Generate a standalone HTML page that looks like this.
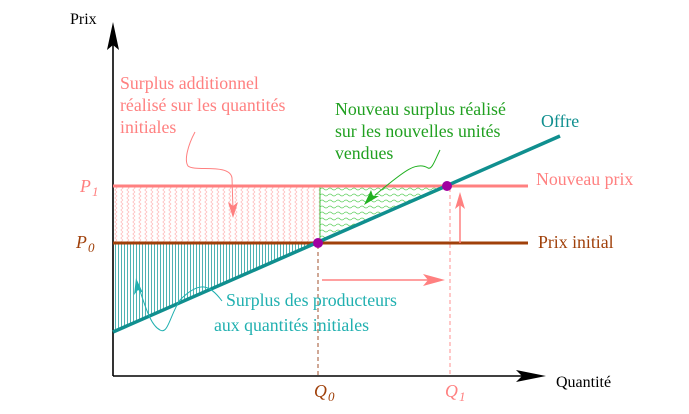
<!DOCTYPE html>
<html><head><meta charset="utf-8"><style>
html,body{margin:0;padding:0;background:#fff;}
svg{display:block;}
text{font-family:"Liberation Serif",serif;font-size:17.8px;}
</style></head><body>
<svg width="689" height="414" viewBox="0 0 689 414" xmlns="http://www.w3.org/2000/svg">
<defs>
<pattern id="pz" width="6" height="8" patternUnits="userSpaceOnUse">
<path d="M3,0 L0.8,2 L3,4 L0.8,6 L3,8" fill="none" stroke="#ffb8b8" stroke-width="0.7"/>
</pattern>
<pattern id="gz" width="8" height="6" patternUnits="userSpaceOnUse">
<path d="M0,3 Q2,1 4,3 T8,3" fill="none" stroke="#60d060" stroke-width="0.8"/>
</pattern>
<pattern id="tz" width="3" height="10" patternUnits="userSpaceOnUse">
<line x1="1.5" y1="0" x2="1.5" y2="10" stroke="#20a0a0" stroke-width="0.8"/>
</pattern>
</defs>
<rect x="113" y="186" width="207" height="57" fill="url(#pz)"/>
<polygon points="320,187 447,187 320,242" fill="url(#gz)" stroke="#40c040" stroke-width="1"/>
<polygon points="113,244 318,244 113,332" fill="url(#tz)"/>
<line x1="113" y1="376" x2="113" y2="40" stroke="#000" stroke-width="1.6"/>
<polygon points="113,22 107,50 113,45 119,50" fill="#000"/>
<line x1="113" y1="376" x2="530" y2="376" stroke="#000" stroke-width="1.6"/>
<polygon points="546,376 516,370 522,376 516,382" fill="#000"/>
<line x1="318" y1="245" x2="318" y2="376" stroke="#a0522d" stroke-width="1" stroke-dasharray="4,3"/>
<line x1="450" y1="188" x2="450" y2="376" stroke="#ff9090" stroke-width="1" stroke-dasharray="4,3"/>
<line x1="113" y1="186" x2="528" y2="186" stroke="#ff8080" stroke-width="3"/>
<line x1="113" y1="243" x2="528" y2="243" stroke="#a0400a" stroke-width="3"/>
<line x1="113" y1="332" x2="560" y2="136" stroke="#108f8f" stroke-width="3.5"/>
<circle cx="318" cy="243" r="5" fill="#a000a0"/>
<circle cx="447" cy="186" r="5" fill="#a000a0"/>
<line x1="322" y1="280" x2="430" y2="280" stroke="#ff8080" stroke-width="1.5"/>
<polygon points="445,280 423,274 428,280 423,286" fill="#ff8080"/>
<line x1="460" y1="243" x2="460" y2="205" stroke="#ff8080" stroke-width="1.5"/>
<polygon points="460,192 455,209 460,205 465,209" fill="#ff8080"/>
<path d="M195,132 C188,145 184,160 188,166 C195,172 230,163 232,178 L233,210" fill="none" stroke="#ff8080" stroke-width="1"/>
<polygon points="233,218 228,202 233,206 238,202" fill="#ff8080"/>
<path d="M440,150 C435,160 432,170 428,168 C415,160 400,175 375,195" fill="none" stroke="#20b020" stroke-width="1"/>
<polygon points="364,205 371,190 373,196 379,196" fill="#20b020"/>
<path d="M222,301 C210,285 200,280 180,300 C170,315 168,335 160,330 C150,325 145,305 138,285" fill="none" stroke="#20b0b0" stroke-width="1"/>
<polygon points="136,278 134,295 138,290 143,293" fill="#20b0b0"/>
<text x="70" y="24" fill="#000" style="font-size:16px">Prix</text>
<text x="556" y="387" fill="#000" style="font-size:16px">Quantité</text>
<text x="120" y="89" fill="#ff8080">Surplus additionnel</text>
<text x="120" y="111" fill="#ff8080">réalisé sur les quantités</text>
<text x="120" y="133" fill="#ff8080">initiales</text>
<text x="335" y="115" fill="#20a020">Nouveau surplus réalisé</text>
<text x="335" y="137" fill="#20a020">sur les nouvelles unités</text>
<text x="335" y="159" fill="#20a020">vendues</text>
<text x="541" y="127" fill="#108f8f">Offre</text>
<text x="536" y="185" fill="#ff8080">Nouveau prix</text>
<text x="538" y="248" fill="#a0400a">Prix initial</text>
<text x="226" y="306" fill="#20b0b0">Surplus des producteurs</text>
<text x="214" y="331" fill="#20b0b0">aux quantités initiales</text>
<text x="80" y="192" fill="#ff8080" font-style="italic">P</text><text x="92" y="196" fill="#ff8080" font-style="italic" style="font-size:13px">1</text>
<text x="76" y="248" fill="#a0400a" font-style="italic">P</text><text x="88" y="252" fill="#a0400a" font-style="italic" style="font-size:13px">0</text>
<text x="314" y="397" fill="#a0400a" font-style="italic">Q</text><text x="328" y="401" fill="#a0400a" font-style="italic" style="font-size:13px">0</text>
<text x="445" y="397" fill="#ff8080" font-style="italic">Q</text><text x="459" y="401" fill="#ff8080" font-style="italic" style="font-size:13px">1</text>
</svg>
</body></html>
